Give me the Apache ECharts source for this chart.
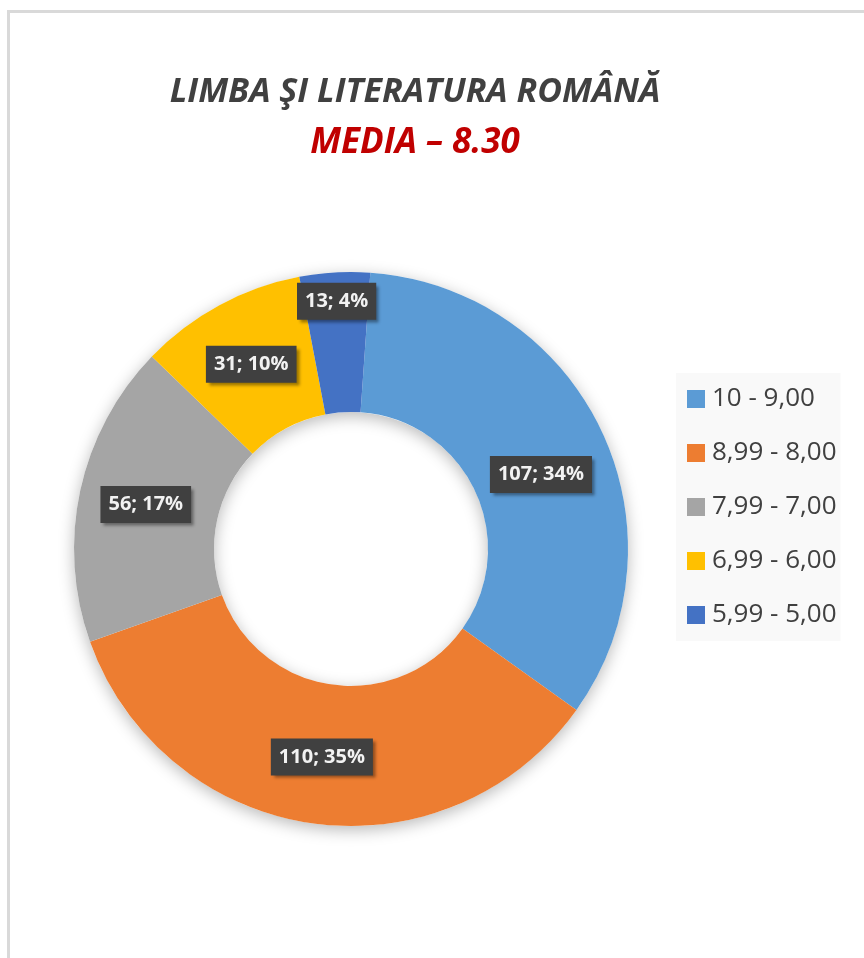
<!DOCTYPE html>
<html>
<head>
<meta charset="utf-8">
<title>Limba si literatura romana</title>
<script src="https://cdn.jsdelivr.net/npm/echarts@6/dist/echarts.min.js"></script>
<style>
  html, body { margin: 0; padding: 0; background: #fff; }
  #chart { width: 864px; height: 958px; }
</style>
</head>
<body>
<div id="chart"></div>
<script>
// grade ranges and how many pupils fell in each
const categories = ['10 - 9,00', '8,99 - 8,00', '7,99 - 7,00', '6,99 - 6,00', '5,99 - 5,00'];
const counts = [107, 110, 56, 31, 13];
const colors = ['#5B9BD5', '#ED7D31', '#A5A5A5', '#FFC000', '#4472C4'];
const titleLine = 'LIMBA ŞI LITERATURA ROMÂNĂ';
const subtitleLine = 'MEDIA – 8.30';

// small label nudges, like the hand-moved labels in the original
const labelShift = [[0, 15], [0, 0], [0, 0], [0, 0], [-2, -38]];

const chart = echarts.init(document.getElementById('chart'));

const option = {
  backgroundColor: '#fff',
  animation: false,
  textStyle: { fontFamily: 'Open Sans' },
  graphic: [{
    type: 'rect',
    shape: { x: 8.5, y: 11.5, width: 900, height: 1000 },
    style: { fill: 'none', stroke: '#d9d9d9', lineWidth: 3 },
    silent: true,
  }],
  title: {
    text: titleLine,
    subtext: subtitleLine,
    left: 410,
    top: 70,
    textAlign: 'center',
    itemGap: 17,
    textStyle: {
      fontSize: 34, fontStyle: 'italic', fontWeight: 'bold', color: '#404040',
    },
    subtextStyle: {
      fontSize: 35, fontStyle: 'italic', fontWeight: 'bold', color: '#C00000',
    },
  },
  legend: {
    orient: 'vertical',
    left: 676,
    top: 373,
    itemWidth: 18,
    itemHeight: 18,
    itemGap: 28,
    padding: [13, 4, 13, 11],
    backgroundColor: '#f9f9f9',
    icon: 'rect',
    textStyle: {
      fontSize: 26, lineHeight: 18, color: '#404040', padding: [0, 0, 0, 2],
    },
    data: categories,
  },
  series: [
    {
      // ring that only carries the soft drop shadow
      type: 'pie',
      silent: true,
      center: [351, 549],
      radius: [137, 277],
      label: { show: false },
      itemStyle: {
        color: '#fff',
        shadowBlur: 16,
        shadowColor: 'rgba(0, 0, 0, 0.28)',
        shadowOffsetY: 4,
      },
      data: [{ value: 1, name: '' }],
    },
    {
      type: 'pie',
      center: [351, 549],
      radius: [137, 277],
      startAngle: 86,
      clockwise: true,
      avoidLabelOverlap: false,
      percentPrecision: 0,
      color: colors,
      label: {
        show: true,
        position: 'inside',
        formatter: '{c}; {d}%',
        fontSize: 20,
        fontWeight: 'bold',
        color: '#f2f2f2',
        backgroundColor: '#404040',
        padding: [9, 8, 8, 8],
        shadowColor: 'rgba(0, 0, 0, 0.4)',
        shadowBlur: 3,
        shadowOffsetX: 3,
        shadowOffsetY: 3,
      },
      labelLayout: (params) => ({
        dx: labelShift[params.dataIndex][0],
        dy: labelShift[params.dataIndex][1],
      }),
      emphasis: { disabled: true },
      data: categories.map((name, i) => ({ name, value: counts[i] })),
    },
  ],
};

chart.setOption(option);
</script>
</body>
</html>
